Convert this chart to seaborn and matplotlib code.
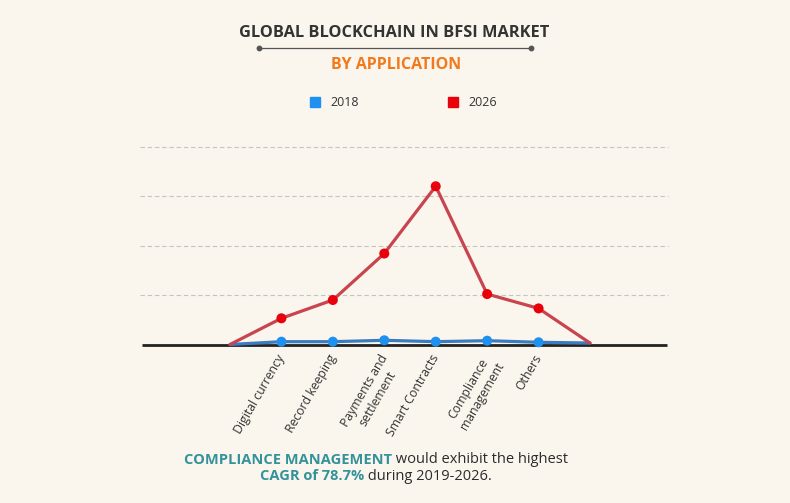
import matplotlib
matplotlib.use("Agg")
import matplotlib.pyplot as plt
import matplotlib.transforms as mtransforms
import seaborn as sns
import pandas as pd
import numpy as np

# ---- data ----
categories = ["", "Digital currency", "Record keeping", "Payments and\nsettlement",
              "Smart Contracts", "Compliance\nmanagement", "Others", ""]
values_2018 = [0.0, 0.057, 0.057, 0.085, 0.057, 0.077, 0.045, 0.03]
values_2026 = [0.0, 0.53, 0.90, 1.84, 3.20, 1.02, 0.73, 0.03]
years = ["2018", "2026"]
title = "GLOBAL BLOCKCHAIN IN BFSI MARKET"
subtitle = "BY APPLICATION"

BG = "#faf6ed"
line_colors = {"2018": "#3b7cc0", "2026": "#c8444e"}
marker_colors = {"2018": "#1e90f0", "2026": "#e8000b"}

sns.set_theme(style="white")
plt.rcParams["font.family"] = ["Open Sans", "DejaVu Sans"]

W, H = 790, 503
fig = plt.figure(figsize=(W / 100, H / 100), dpi=100, facecolor=BG)

ax_l, ax_r = 140, 668
ax_b, ax_t = 344.5, 146.7
ax = fig.add_axes([ax_l / W, (H - ax_b) / H, (ax_r - ax_l) / W, (ax_b - ax_t) / H])
ax.set_facecolor(BG)

x = np.arange(len(categories))
df = pd.DataFrame({
    "pos": np.concatenate([x, x]),
    "value": values_2018 + values_2026,
    "year": ["2018"] * len(x) + ["2026"] * len(x),
})

sns.lineplot(data=df, x="pos", y="value", hue="year", palette=line_colors,
             linewidth=2.3, ax=ax, legend=False, zorder=3, clip_on=False, sort=False)
inner = df[(df["pos"] > 0) & (df["pos"] < len(categories) - 1)]
sns.scatterplot(data=inner, x="pos", y="value", hue="year", palette=marker_colors,
                s=52, linewidth=0, ax=ax, legend=False, zorder=4, clip_on=False)

# axes layout
span = 590 - 230
step = span / (len(categories) - 1)
ax.set_xlim(-(230 - ax_l) / step, (len(categories) - 1) + (ax_r - 590) / step)
ax.set_ylim(0, 4.0)
for s in ax.spines.values():
    s.set_visible(False)
ax.set_yticks([])
for gy in [1, 2, 3, 4]:
    ax.axhline(gy, color="#c4c4c4", lw=0.8, ls=(0, (4, 2.5)), zorder=1, clip_on=False)
ax.plot([-(230 - 142) / step, (len(categories) - 1) + (667 - 590) / step], [0, 0],
        color="#222222", lw=2.0, zorder=2, clip_on=False, solid_capstyle="butt")

ax.set_xticks(x[1:-1])
ax.set_xticklabels(categories[1:-1], rotation=60, ha="right", va="top",
                   rotation_mode="anchor", fontsize=8.8, color="#333333",
                   multialignment="center")
ax.tick_params(axis="x", length=0, pad=5)
shift = mtransforms.ScaledTranslation(-5 / 100, -1 / 100, fig.dpi_scale_trans)
for lbl in ax.get_xticklabels():
    lbl.set_transform(lbl.get_transform() + shift)
ax.set_xlabel("")
ax.set_ylabel("")

# ---- titles ----
fig.text(394 / W, 1 - 33 / H, title, ha="center", va="center", fontsize=11.8,
         fontweight="bold", color="#333333")
fig.add_artist(plt.Line2D([259 / W, 531 / W], [1 - 48.3 / H, 1 - 48.3 / H],
                          color="#555555", lw=0.9))
fig.add_artist(plt.Line2D([259 / W, 531 / W], [1 - 48.3 / H, 1 - 48.3 / H],
                          color="#555555", lw=0, marker="o", markersize=3.2))
fig.text(396 / W, 1 - 65 / H, subtitle, ha="center", va="center", fontsize=11.5,
         fontweight="bold", color="#f07a1c")

# ---- legend ----
for yr, sx, tx in [("2018", 315, 330), ("2026", 453, 468)]:
    fig.add_artist(plt.Line2D([sx / W], [1 - 102 / H], marker="s", markersize=7.5,
                              color=marker_colors[yr], lw=0))
    fig.text(tx / W, 1 - 102 / H, yr, ha="left", va="center", fontsize=9,
             color="#333333")

# ---- bottom caption (mixed colours) ----
TEAL = "#33929a"
DARK = "#2b2b2b"
lines = [
    [("COMPLIANCE MANAGEMENT", TEAL, "bold"), (" would exhibit the highest", DARK, "normal")],
    [("CAGR of 78.7%", TEAL, "bold"), (" during 2019-2026.", DARK, "normal")],
]
ys = [459.5, 476]
renderer = fig.canvas.get_renderer()
for parts, yy in zip(lines, ys):
    texts = []
    for s, c, w in parts:
        t = fig.text(0, 1 - yy / H, s, ha="left", va="center", fontsize=10.5,
                     fontweight=w, color=c)
        texts.append(t)
    widths = [t.get_window_extent(renderer).width for t in texts]
    total = sum(widths)
    cur = 376 - total / 2
    for t, wdt in zip(texts, widths):
        t.set_x(cur / W)
        cur += wdt

fig.savefig("out.png", dpi=100, facecolor=BG)
